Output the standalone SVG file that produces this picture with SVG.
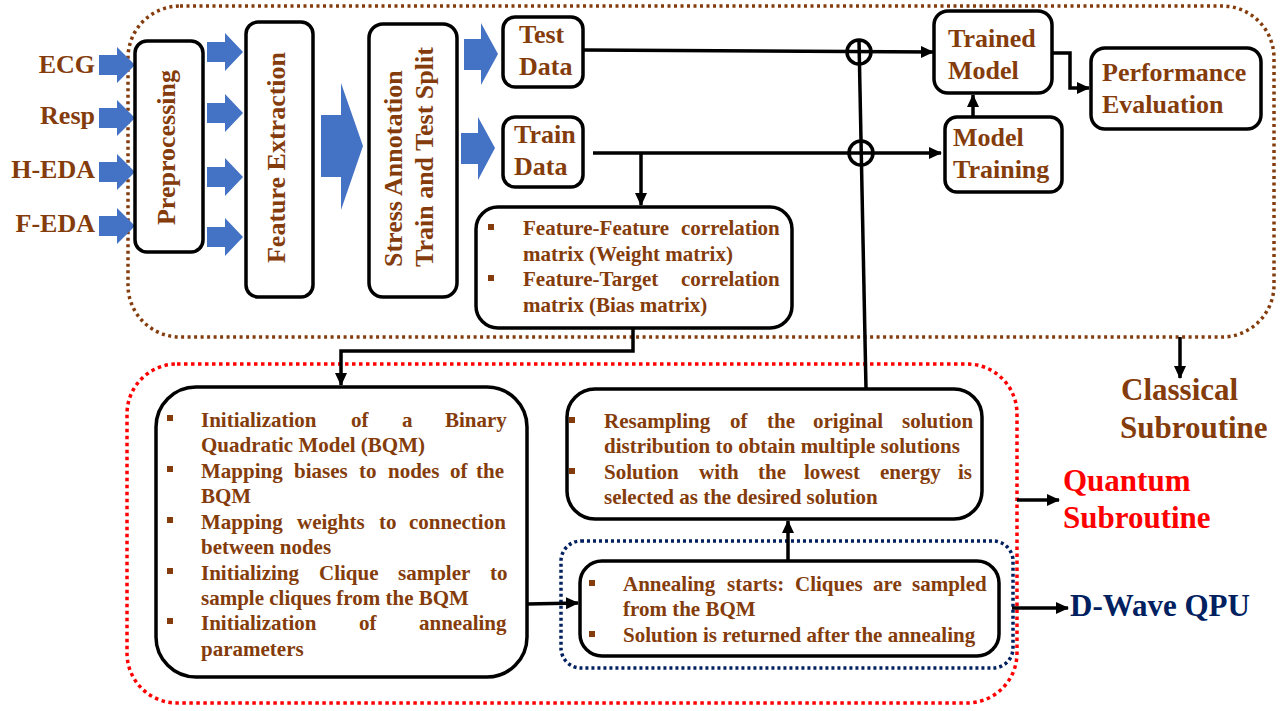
<svg xmlns="http://www.w3.org/2000/svg" width="1288" height="711" viewBox="0 0 1288 711">
<defs>
<style>
.box{fill:#fff;stroke:#000;stroke-width:3.5}
.t{font-family:"Liberation Serif","Times New Roman",serif;font-weight:bold;fill:#843C0C}
.l{font-size:26px}
.s{font-size:21px}
.big{font-size:31px}
.ln{fill:none;stroke:#000;stroke-width:3.5}
.blk{fill:#4472C4}
.bul{fill:#843C0C}
</style>
<marker id="ah" markerUnits="userSpaceOnUse" markerWidth="14" markerHeight="14" refX="12" refY="7" orient="auto">
<path d="M0,1 L13,7 L0,13 Z" fill="#000"/>
</marker>
</defs>
<rect width="1288" height="711" fill="#fff"/>

<!-- group containers -->
<g id="classical-container">
<rect x="128" y="6" width="1146" height="331" rx="52" fill="none" stroke="#843C0C" stroke-width="3.5" stroke-dasharray="3 3.5"/>
</g>
<g id="quantum-container">
<rect x="127" y="364" width="890" height="339" rx="50" fill="none" stroke="#FF0000" stroke-width="3.5" stroke-dasharray="3.5 3.5"/>
</g>
<g id="dwave-container">
<rect x="561" y="541" width="452" height="127" rx="20" fill="none" stroke="#002060" stroke-width="3.5" stroke-dasharray="3 3"/>
</g>

<!-- input labels and arrows -->
<g id="inputs">
<text class="t l" x="95" y="73" text-anchor="end">ECG</text>
<text class="t l" x="95" y="124" text-anchor="end">Resp</text>
<text class="t l" x="95" y="178" text-anchor="end">H-EDA</text>
<text class="t l" x="95" y="232" text-anchor="end">F-EDA</text>
<path class="blk" d="M99,55 H117 V47 L135,65 L117,83 V75 H99 Z"/>
<path class="blk" d="M99,108 H117 V100 L135,118 L117,136 V128 H99 Z"/>
<path class="blk" d="M99,162 H117 V154 L135,172 L117,190 V182 H99 Z"/>
<path class="blk" d="M99,216 H117 V208 L135,226 L117,244 V236 H99 Z"/>
</g>

<g id="preprocessing">
<rect class="box" x="135" y="41" width="68" height="211" rx="12"/>
<text class="t l" transform="translate(175,147.5) rotate(-90)" text-anchor="middle">Preprocessing</text>
</g>

<g id="pre-fe-arrows">
<path class="blk" d="M207,42 H225 V33 L243,52 L225,71 V62 H207 Z"/>
<path class="blk" d="M207,103 H225 V94 L243,113 L225,132 V123 H207 Z"/>
<path class="blk" d="M207,167 H225 V158 L243,177 L225,196 V187 H207 Z"/>
<path class="blk" d="M207,227 H225 V218 L243,237 L225,256 V247 H207 Z"/>
</g>

<g id="feature-extraction">
<rect class="box" x="246" y="22" width="67" height="275" rx="12"/>
<text class="t l" transform="translate(285,157.5) rotate(-90)" text-anchor="middle">Feature Extraction</text>
</g>

<path class="blk" d="M321,115 H341 V83 L363,146 L341,210 V177 H321 Z"/>

<g id="stress-annotation">
<rect class="box" x="369" y="24" width="88" height="273" rx="14"/>
<text class="t l" transform="translate(402,267) rotate(-90)">Stress Annotation</text>
<text class="t l" transform="translate(433,267) rotate(-90)">Train and Test Split</text>
</g>

<path class="blk" d="M464,39 H481 V23 L498,54 L481,85 V70 H464 Z"/>
<path class="blk" d="M461,133 H478 V117 L495,148 L478,180 V164 H461 Z"/>

<g id="test-data">
<rect class="box" x="503" y="17" width="80" height="70" rx="12"/>
<text class="t l" x="519" y="43">Test</text>
<text class="t l" x="519" y="75">Data</text>
</g>

<g id="train-data">
<rect class="box" x="503" y="117" width="80" height="70" rx="12"/>
<text class="t l" x="514" y="143">Train</text>
<text class="t l" x="514" y="175">Data</text>
</g>

<g id="correlation-box">
<rect class="box" x="476" y="207" width="316" height="121" rx="22"/>
<rect class="bul" x="488" y="224" width="6" height="6"/>
<rect class="bul" x="488" y="275" width="6" height="6"/>
<text class="t s" y="235"><tspan x="523">Feature-Feature</tspan><tspan x="681">correlation</tspan></text>
<text class="t s" x="523" y="261">matrix (Weight matrix)</text>
<text class="t s" y="286"><tspan x="523">Feature-Target</tspan><tspan x="681">correlation</tspan></text>
<text class="t s" x="523" y="312">matrix (Bias matrix)</text>
</g>

<g id="trained-model">
<rect class="box" x="934" y="11" width="118" height="82" rx="14"/>
<text class="t l" x="948" y="47">Trained</text>
<text class="t l" x="948" y="79">Model</text>
</g>

<g id="model-training">
<rect class="box" x="945" y="117" width="117" height="75" rx="12"/>
<text class="t l" x="953" y="146">Model</text>
<text class="t l" x="953" y="178">Training</text>
</g>

<g id="performance-evaluation">
<rect class="box" x="1091" y="48" width="170" height="81" rx="14"/>
<text class="t l" x="1102" y="81">Performance</text>
<text class="t l" x="1102" y="113">Evaluation</text>
</g>

<g id="classical-label">
<text class="t big" x="1121" y="400">Classical</text>
<text class="t big" x="1120" y="438">Subroutine</text>
</g>

<g id="bqm-box">
<rect class="box" x="156" y="387" width="371" height="290" rx="40"/>
<rect class="bul" x="167" y="415" width="6" height="6"/>
<rect class="bul" x="167" y="466" width="6" height="6"/>
<rect class="bul" x="167" y="517" width="6" height="6"/>
<rect class="bul" x="167" y="568" width="6" height="6"/>
<rect class="bul" x="167" y="618" width="6" height="6"/>
<text class="t s" y="427"><tspan x="201">Initialization</tspan><tspan x="351">of</tspan><tspan x="402">a</tspan><tspan x="445">Binary</tspan></text>
<text class="t s" x="201" y="452">Quadratic Model (BQM)</text>
<text class="t s" y="478"><tspan x="201">Mapping</tspan><tspan x="294">biases</tspan><tspan x="359">to</tspan><tspan x="388">nodes</tspan><tspan x="450">of</tspan><tspan x="476">the</tspan></text>
<text class="t s" x="201" y="503">BQM</text>
<text class="t s" y="529"><tspan x="201">Mapping</tspan><tspan x="297">weights</tspan><tspan x="379">to</tspan><tspan x="409">connection</tspan></text>
<text class="t s" x="201" y="554">between nodes</text>
<text class="t s" y="580"><tspan x="201">Initializing</tspan><tspan x="319">Clique</tspan><tspan x="398">sampler</tspan><tspan x="490">to</tspan></text>
<text class="t s" x="201" y="605">sample cliques from the BQM</text>
<text class="t s" y="630"><tspan x="201">Initialization</tspan><tspan x="359">of</tspan><tspan x="419">annealing</tspan></text>
<text class="t s" x="201" y="656">parameters</text>
</g>

<g id="resampling-box">
<rect class="box" x="567" y="389" width="415" height="130" rx="28"/>
<rect class="bul" x="569" y="417" width="6" height="6"/>
<rect class="bul" x="569" y="468" width="6" height="6"/>
<text class="t s" y="428"><tspan x="604">Resampling</tspan><tspan x="730">of</tspan><tspan x="767">the</tspan><tspan x="813">original</tspan><tspan x="902">solution</tspan></text>
<text class="t s" x="604" y="453">distribution to obtain multiple solutions</text>
<text class="t s" y="479"><tspan x="604">Solution</tspan><tspan x="699">with</tspan><tspan x="758">the</tspan><tspan x="804">lowest</tspan><tspan x="880">energy</tspan><tspan x="958">is</tspan></text>
<text class="t s" x="604" y="504">selected as the desired solution</text>
</g>

<g id="annealing-box">
<rect class="box" x="580" y="561" width="419" height="95" rx="22"/>
<rect class="bul" x="589" y="580" width="6" height="6"/>
<rect class="bul" x="589" y="631" width="6" height="6"/>
<text class="t s" y="591"><tspan x="623">Annealing</tspan><tspan x="727">starts:</tspan><tspan x="795">Cliques</tspan><tspan x="873">are</tspan><tspan x="912">sampled</tspan></text>
<text class="t s" x="623" y="616">from the BQM</text>
<text class="t s" x="623" y="642">Solution is returned after the annealing</text>
</g>

<g id="quantum-label">
<text class="t big" x="1063" y="491" fill="#FF0000" style="fill:#FF0000">Quantum</text>
<text class="t big" x="1063" y="528" style="fill:#FF0000">Subroutine</text>
</g>

<g id="dwave-label">
<text class="t big" x="1070" y="616" style="fill:#002060">D-Wave QPU</text>
</g>

<g id="connectors">
<path class="ln" d="M583,50 L933,52" marker-end="url(#ah)"/>
<path class="ln" d="M593,153 L941,153" marker-end="url(#ah)"/>
<path class="ln" d="M641,153 V205" marker-end="url(#ah)"/>
<path class="ln" d="M859,40 L866,389"/>
<circle cx="859" cy="52" r="12" fill="none" stroke="#000" stroke-width="3.5"/>
<circle cx="861" cy="153" r="12" fill="none" stroke="#000" stroke-width="3.5"/>
<path class="ln" d="M973,117 V95" marker-end="url(#ah)"/>
<path class="ln" d="M1052,53 H1070 V88 H1089" marker-end="url(#ah)"/>
<path class="ln" d="M1180,337 V378" marker-end="url(#ah)"/>
<path class="ln" d="M633,328 V351 H341 V385" marker-end="url(#ah)"/>
<path class="ln" d="M527,604 L578,603" marker-end="url(#ah)"/>
<path class="ln" d="M788,561 V521" marker-end="url(#ah)"/>
<path class="ln" d="M1017,500 H1059" marker-end="url(#ah)"/>
<path class="ln" d="M1012,608 H1068" marker-end="url(#ah)"/>
</g>
</svg>
